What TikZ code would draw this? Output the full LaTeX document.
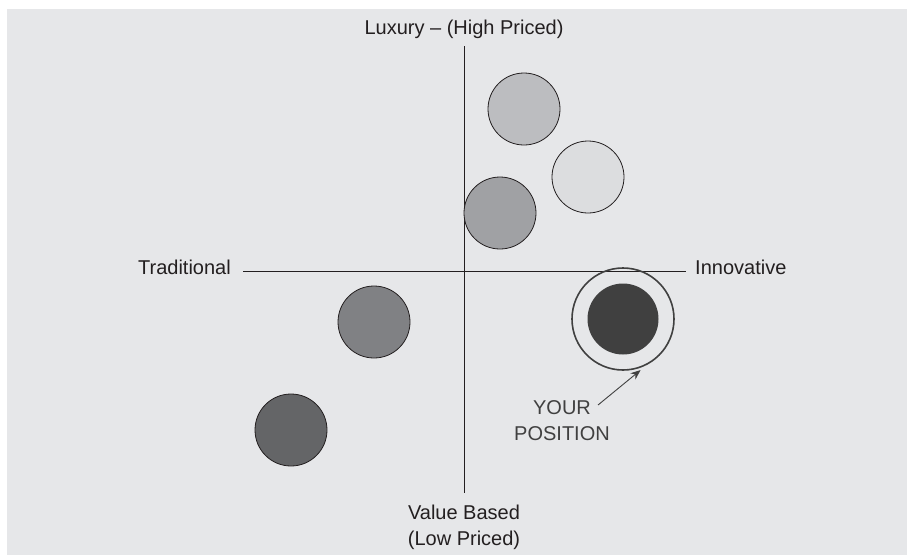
\documentclass[tikz,border=0pt]{standalone}
\usepackage{fontspec}
\setmainfont{Liberation Sans}
\usetikzlibrary{arrows.meta,positioning}
\definecolor{panelgray}{HTML}{E6E7E9}
\definecolor{inkgray}{HTML}{231F20}
\definecolor{markgray}{HTML}{404040}
\tikzset{
    brand/.style={
        circle, draw=inkgray, line width=0.8pt,
        minimum size=72pt, inner sep=0pt
    }
}

\begin{document}
\begin{tikzpicture}[
        x=1pt, y=-1pt,
        labeltext/.style={
            inner sep=0pt, text=inkgray,
            font=\fontsize{20}{26}\selectfont
        },
        axislabel/.style={
            labeltext, text height=0.72em, text depth=0.02em
        },
        axis/.style={draw=inkgray, line width=1pt},
        pointer/.style={draw=markgray, line width=0.9pt,
            -{Stealth[length=10pt,width=8pt]}}
      ]

    \useasboundingbox (0,0) rectangle (907,555);
    \fill[panelgray] (7,9) rectangle (907,555);

    \node[axislabel]                           (lux)   at (464,31)  {Luxury -- (High Priced)};
    \node[labeltext,align=center,anchor=north] (val)   at (464,505) {Value Based\\(Low Priced)};
    \node[axislabel,anchor=east]               (trad)  at (231,271) {Traditional};
    \node[axislabel,anchor=west]               (innov) at (695,271) {Innovative};

    \draw[axis,shorten <=11.5pt,shorten >=12pt] (lux.south) -- (val.north);
    \draw[axis,shorten <=12pt,shorten >=9pt] (trad.east) -- (innov.west);

    \node[brand,fill={rgb,255:red,188;green,189;blue,192}] (upper)  at (524,109) {};
    \node[brand,fill={rgb,255:red,220;green,221;blue,223}] (fresh)  at (588,177) {};
    \node[brand,fill={rgb,255:red,160;green,161;blue,164}] (middle) at (500,213) {};
    \node[brand,fill={rgb,255:red,128;green,129;blue,132}] (basic)  at (374,322) {};
    \node[brand,fill={rgb,255:red,100;green,101;blue,103}] (budget) at (291,430) {};

    \node[circle,fill=markgray,minimum size=71pt,inner sep=0pt] (own) at (623,319) {};
    \node[circle,draw=markgray,line width=1.6pt,minimum size=102pt,
          inner sep=0pt,outer sep=3pt] (ring) at (own) {};

    \node[labeltext,text=markgray,align=center] (you) at (562,421) {YOUR\\POSITION};
    \coordinate (tail) at (598,405);
    \draw[pointer] (tail) -- (ring.-71);

\end{tikzpicture}
\end{document}
